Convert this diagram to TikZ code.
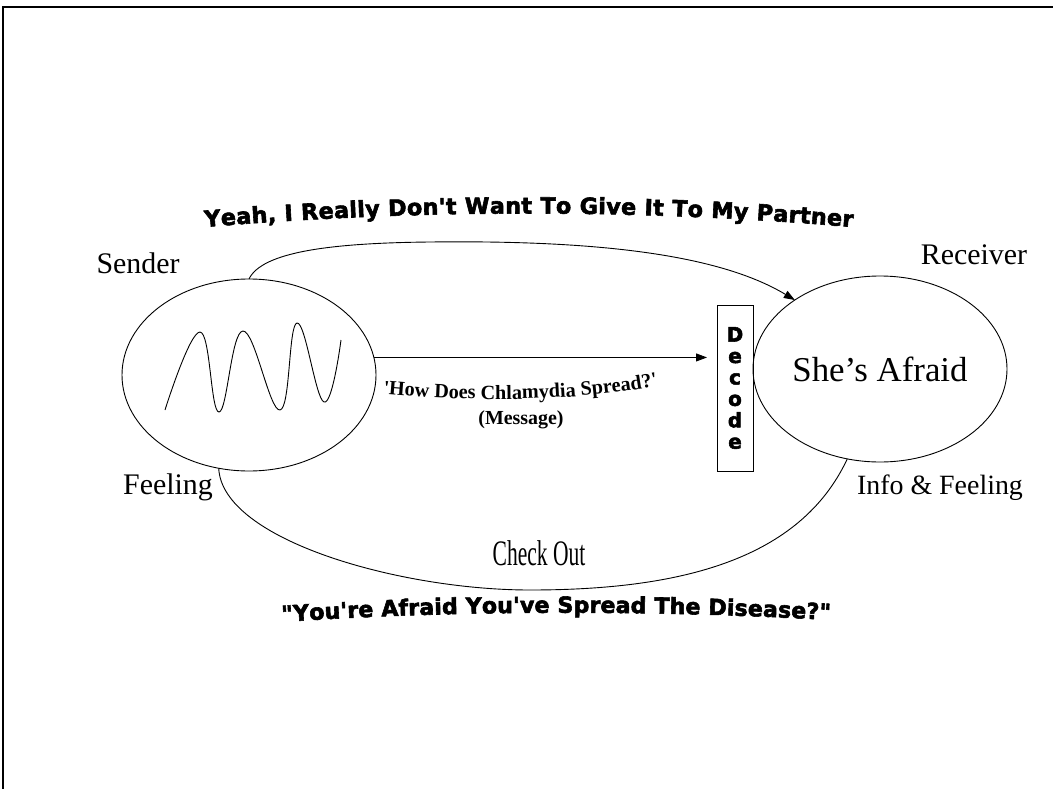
\documentclass[tikz,border=0pt]{standalone}
\usepackage{fontspec}
\setmainfont{Liberation Serif}
\newfontfamily\plainserif{Liberation Serif}[Ligatures=TeXOff]
\newfontfamily\blackfont{DejaVu Sans}[Ligatures=TeXOff,BoldFeatures={FakeBold=2.6}]
\usetikzlibrary{shapes.geometric,arrows.meta,decorations.text}
\begin{document}
\begin{tikzpicture}[x=1bp,y=-1bp,line width=0.9bp,
  bubble/.style={draw,ellipse,inner sep=0pt,outer sep=0pt,minimum width=254bp,minimum height=#1},
  tip/.style={-{Triangle[length=11bp,width=8bp]}},
  label/.style={inner sep=0pt,font=\fontsize{30}{30}\selectfont},
  frame/.style={line width=2bp}]
\useasboundingbox (0,0) rectangle (1053,789);
% frame
\draw[frame] (3,789) -- (3,7) -- (1053,7);
% nodes
\node[bubble=192bp] (sender) at (249,375) {};
\node[bubble=186bp,font=\fontsize{35}{35}\selectfont] (receiver) at (880,369) {She’s Afraid};
\node[draw,minimum width=36bp,minimum height=166bp,inner sep=0pt,outer sep=0pt,align=center,
      font=\blackfont\bfseries\fontsize{20}{21.5}\selectfont] (decode) at (735,388) {D\\e\\c\\o\\d\\e};
% wave
\draw plot[smooth,tension=0.7] coordinates {(165,410) (200,332) (219,412) (243,331) (280,410) (297,323) (324,402) (341,340)};
% connectors
\draw[tip,shorten >=10bp] (sender.8) -- (sender.8 -| decode.west);
\draw[tip] (sender.north) .. controls (262,252) and (330,243) .. (430,242)
   .. controls (600,240) and (720,255) .. (receiver.141);
\draw (sender.252) .. controls (222,540) and (400,590) .. (530,590)
   .. controls (680,590) and (800,560) .. (receiver.250);
% labels
\node[label] (lsender) at (138,263) {Sender};
\node[label] (lreceiver) at (974,255) {Receiver};
\node[label] (lfeeling) at (168,487) {Feeling};
\node[label,font=\fontsize{28}{28}\selectfont] (linfo) at (940,488) {Info \& Feeling};
\node[inner sep=0pt,font=\fontsize{36}{36}\selectfont] (lcheck) at (539,553) {\scalebox{0.6}[1]{Check Out}};
\node[inner sep=0pt,font=\bfseries\fontsize{20}{20}\selectfont] (lmsg) at (521,420) {(Message)};
% curved texts
\path[decorate,decoration={text along path,text align={fit to path},
  text={|\plainserif\bfseries\fontsize{20.3}{20.3}\selectfont|'How Does Chlamydia Spread?'}}]
  (383,394) .. controls (470,402) and (570,402) .. (657,386);
\path[decorate,decoration={text along path,text align={fit to path},
  text={|\blackfont\bfseries\fontsize{22.4}{22.4}\selectfont|Yeah, I Really Don't Want To Give It To My Partner}}]
  (205,227) .. controls (420,209) and (640,209) .. (852,227);
\path[decorate,decoration={text along path,text align={fit to path},
  text={|\blackfont\bfseries\fontsize{22.2}{22.2}\selectfont|"You're Afraid You've Spread The Disease?"}}]
  (282,622) .. controls (450,610) and (660,610) .. (830,620);
\end{tikzpicture}
\end{document}
